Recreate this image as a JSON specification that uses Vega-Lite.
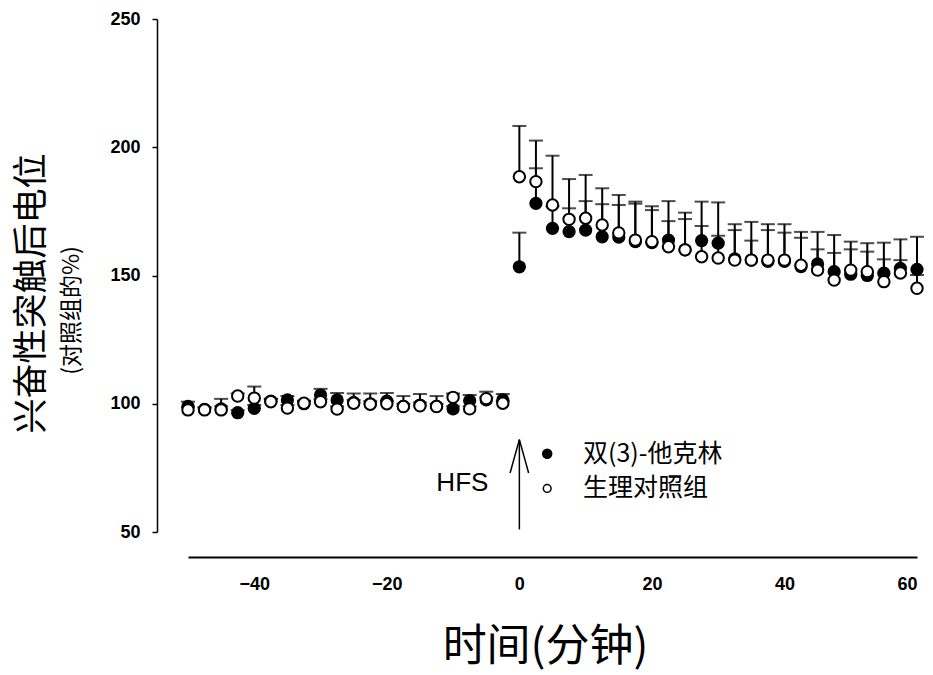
{
  "$schema": "https://vega.github.io/schema/vega-lite/v6.json",
  "width": 729,
  "height": 513,
  "autosize": {"type": "none"},
  "padding": {"left": 188, "top": 19, "right": 16, "bottom": 143},
  "background": "white",
  "config": {
    "view": {"stroke": null},
    "font": "Liberation Sans",
    "axis": {"grid": false, "domainColor": "black", "tickColor": "black", "labelColor": "black", "titleColor": "black"}
  },
  "datasets": {
    "pts": [
      {"t": -50, "group": "F", "mean": 99, "upper": 100.8},
      {"t": -47.5, "group": "F", "mean": 97.8, "upper": 98.6},
      {"t": -45, "group": "F", "mean": 98, "upper": 99},
      {"t": -42.5, "group": "F", "mean": 96.5, "upper": 97.5},
      {"t": -40, "group": "F", "mean": 98.2, "upper": 99.5},
      {"t": -37.5, "group": "F", "mean": 101, "upper": 102},
      {"t": -35, "group": "F", "mean": 101.5, "upper": 103},
      {"t": -32.5, "group": "F", "mean": 100, "upper": 101},
      {"t": -30, "group": "F", "mean": 103.4, "upper": 105.8},
      {"t": -27.5, "group": "F", "mean": 101.5, "upper": 104.2},
      {"t": -25, "group": "F", "mean": 100.5, "upper": 101.5},
      {"t": -22.5, "group": "F", "mean": 100, "upper": 101},
      {"t": -20, "group": "F", "mean": 101, "upper": 104.2},
      {"t": -17.5, "group": "F", "mean": 99, "upper": 100},
      {"t": -15, "group": "F", "mean": 99.5, "upper": 100.5},
      {"t": -12.5, "group": "F", "mean": 99, "upper": 100},
      {"t": -10, "group": "F", "mean": 98, "upper": 99},
      {"t": -7.5, "group": "F", "mean": 101.2, "upper": 103.4},
      {"t": -5, "group": "F", "mean": 101.5, "upper": 102.5},
      {"t": -2.5, "group": "F", "mean": 101.5, "upper": 103.8},
      {"t": 0, "group": "F", "mean": 153.4, "upper": 166.7},
      {"t": 2.5, "group": "F", "mean": 178.1, "upper": 191.8},
      {"t": 5, "group": "F", "mean": 168.4, "upper": 177},
      {"t": 7.5, "group": "F", "mean": 167.1, "upper": 176.2},
      {"t": 10, "group": "F", "mean": 167.7, "upper": 179},
      {"t": 12.5, "group": "F", "mean": 165.1, "upper": 177.8},
      {"t": 15, "group": "F", "mean": 165, "upper": 177.5},
      {"t": 17.5, "group": "F", "mean": 163.2, "upper": 178},
      {"t": 20, "group": "F", "mean": 162.8, "upper": 175.5},
      {"t": 22.5, "group": "F", "mean": 163.8, "upper": 179},
      {"t": 25, "group": "F", "mean": 160, "upper": 172},
      {"t": 27.5, "group": "F", "mean": 163.6, "upper": 178.8},
      {"t": 30, "group": "F", "mean": 162.6, "upper": 178.5},
      {"t": 32.5, "group": "F", "mean": 156.5, "upper": 167.7},
      {"t": 35, "group": "F", "mean": 156, "upper": 163.6},
      {"t": 37.5, "group": "F", "mean": 155.5, "upper": 167.7},
      {"t": 40, "group": "F", "mean": 155.5, "upper": 166.7},
      {"t": 42.5, "group": "F", "mean": 153.5, "upper": 164.7},
      {"t": 45, "group": "F", "mean": 154.5, "upper": 167},
      {"t": 47.5, "group": "F", "mean": 151.5, "upper": 165.8},
      {"t": 50, "group": "F", "mean": 150.5, "upper": 160.2},
      {"t": 52.5, "group": "F", "mean": 150, "upper": 159.3},
      {"t": 55, "group": "F", "mean": 150.9, "upper": 162.8},
      {"t": 57.5, "group": "F", "mean": 152.8, "upper": 164.1},
      {"t": 60, "group": "F", "mean": 152.4, "upper": 165.1},
      {"t": -50, "group": "O", "mean": 97.6, "upper": 98.6},
      {"t": -47.5, "group": "O", "mean": 97.6, "upper": 98.5},
      {"t": -45, "group": "O", "mean": 97.6, "upper": 101.9},
      {"t": -42.5, "group": "O", "mean": 103, "upper": 104},
      {"t": -40, "group": "O", "mean": 102.2, "upper": 106.7},
      {"t": -37.5, "group": "O", "mean": 100.8, "upper": 101.8},
      {"t": -35, "group": "O", "mean": 98.3, "upper": 99.5},
      {"t": -32.5, "group": "O", "mean": 100.2, "upper": 101.2},
      {"t": -30, "group": "O", "mean": 100.8, "upper": 101.8},
      {"t": -27.5, "group": "O", "mean": 97.9, "upper": 99},
      {"t": -25, "group": "O", "mean": 100.2, "upper": 104},
      {"t": -22.5, "group": "O", "mean": 99.8, "upper": 104},
      {"t": -20, "group": "O", "mean": 100, "upper": 101},
      {"t": -17.5, "group": "O", "mean": 98.9, "upper": 103},
      {"t": -15, "group": "O", "mean": 99.2, "upper": 103.8},
      {"t": -12.5, "group": "O", "mean": 98.9, "upper": 103},
      {"t": -10, "group": "O", "mean": 102.5, "upper": 104},
      {"t": -7.5, "group": "O", "mean": 98, "upper": 99},
      {"t": -5, "group": "O", "mean": 102, "upper": 104.7},
      {"t": -2.5, "group": "O", "mean": 100.2, "upper": 101},
      {"t": 0, "group": "O", "mean": 188.5, "upper": 208.3},
      {"t": 2.5, "group": "O", "mean": 186.6, "upper": 202.6},
      {"t": 5, "group": "O", "mean": 177.5, "upper": 196.7},
      {"t": 7.5, "group": "O", "mean": 171.9, "upper": 187.6},
      {"t": 10, "group": "O", "mean": 172.3, "upper": 189.2},
      {"t": 12.5, "group": "O", "mean": 169.7, "upper": 184},
      {"t": 15, "group": "O", "mean": 166.6, "upper": 181.4},
      {"t": 17.5, "group": "O", "mean": 163.8, "upper": 178.8},
      {"t": 20, "group": "O", "mean": 163.2, "upper": 177},
      {"t": 22.5, "group": "O", "mean": 161.2, "upper": 171.2},
      {"t": 25, "group": "O", "mean": 160, "upper": 174.5},
      {"t": 27.5, "group": "O", "mean": 157.3, "upper": 169.3},
      {"t": 30, "group": "O", "mean": 156.8, "upper": 165.5},
      {"t": 32.5, "group": "O", "mean": 156, "upper": 170},
      {"t": 35, "group": "O", "mean": 156, "upper": 170.9},
      {"t": 37.5, "group": "O", "mean": 156, "upper": 170},
      {"t": 40, "group": "O", "mean": 156, "upper": 170},
      {"t": 42.5, "group": "O", "mean": 154, "upper": 167},
      {"t": 45, "group": "O", "mean": 152.1, "upper": 160.2},
      {"t": 47.5, "group": "O", "mean": 148.2, "upper": 158.8},
      {"t": 50, "group": "O", "mean": 152.1, "upper": 163.2},
      {"t": 52.5, "group": "O", "mean": 151.5, "upper": 162.6},
      {"t": 55, "group": "O", "mean": 147.6, "upper": 156.3},
      {"t": 57.5, "group": "O", "mean": 151, "upper": 156},
      {"t": 60, "group": "O", "mean": 145, "upper": 150.2}
    ],
    "arrow": [
      {"t": 0, "v": 51, "t2": 0, "v2": 86},
      {"t": 0, "v": 86, "t2": -1.4, "v2": 73},
      {"t": 0, "v": 86, "t2": 1.4, "v2": 73}
    ],
    "hfs": [{"t": -8.6, "v": 69, "label": "HFS"}],
    "legendSym": [
      {"t": 4.2, "v": 80.5, "kind": "F"},
      {"t": 4.2, "v": 67, "kind": "O"}
    ],
    "legendText": [
      {"t": 9.6, "v": 80.5, "label": "双(3)-他克林"},
      {"t": 9.6, "v": 67, "label": "生理对照组"}
    ]
  },
  "resolve": {"scale": {"y": "shared", "x": "shared"}, "axis": {"y": "independent"}},
  "layer": [
    {
      "data": {"name": "pts"},
      "mark": {"type": "rule", "color": "black", "strokeWidth": 2},
      "encoding": {
        "x": {"field": "t", "type": "quantitative", "scale": {"domain": [-50, 60], "nice": false, "zero": false},
          "axis": {"title": "时间(分钟)", "values": [-40, -20, 0, 20, 40, 60], "offset": 25, "ticks": false, "domainWidth": 2,
            "labelFont": "Liberation Sans", "labelFontWeight": "bold", "labelFontSize": 18, "labelPadding": 18,
            "titleFont": "Noto Sans CJK SC", "titleFontWeight": "normal", "titleFontSize": 44,
            "titleX": 357, "titleY": 90, "titleBaseline": "middle", "titleAlign": "center"}},
        "y": {"field": "mean", "type": "quantitative", "scale": {"domain": [50, 250], "nice": false, "zero": false}, "axis": null},
        "y2": {"field": "upper"}
      }
    },
    {
      "data": {"name": "pts"},
      "mark": {"type": "tick", "orient": "horizontal", "color": "black", "size": 14, "thickness": 2},
      "encoding": {
        "x": {"field": "t", "type": "quantitative"},
        "y": {"field": "upper", "type": "quantitative", "axis": null}
      }
    },
    {
      "data": {"name": "pts"},
      "transform": [{"filter": "datum.group == 'F'"}],
      "mark": {"type": "point", "shape": "circle", "filled": true, "color": "black", "size": 175, "opacity": 1},
      "encoding": {
        "x": {"field": "t", "type": "quantitative"},
        "y": {"field": "mean", "type": "quantitative",
          "axis": {"orient": "left", "title": "(对照组的%)", "values": [50, 100, 150, 200, 250], "offset": 31, "tickSize": 5, "domainWidth": 1.5, "tickWidth": 1.5,
            "labelFont": "Liberation Sans", "labelFontWeight": "bold", "labelFontSize": 18, "labelPadding": 12,
            "titleFont": "Noto Sans CJK SC", "titleFontWeight": "normal", "titleFontSize": 23,
            "titleX": -86, "titleY": 291, "titleAngle": -90, "titleAlign": "center", "titleBaseline": "middle"}}
      }
    },
    {
      "data": {"name": "pts"},
      "transform": [{"filter": "datum.group == 'O'"}],
      "mark": {"type": "point", "shape": "circle", "filled": false, "fill": "white", "fillOpacity": 1, "stroke": "black", "strokeWidth": 2, "size": 130, "opacity": 1},
      "encoding": {
        "x": {"field": "t", "type": "quantitative"},
        "y": {"field": "mean", "type": "quantitative", "axis": null}
      }
    },
    {
      "data": {"name": "arrow"},
      "mark": {"type": "rule", "color": "black", "strokeWidth": 1.5},
      "encoding": {
        "x": {"field": "t", "type": "quantitative"},
        "x2": {"field": "t2"},
        "y": {"field": "v", "type": "quantitative",
          "axis": {"orient": "left", "title": "兴奋性突触后电位", "labels": false, "ticks": false, "domain": false, "offset": 31,
            "titleFont": "Noto Sans CJK SC", "titleFontWeight": "normal", "titleFontSize": 35,
            "titleX": -126, "titleY": 274, "titleAngle": -90, "titleAlign": "center", "titleBaseline": "middle"}},
        "y2": {"field": "v2"}
      }
    },
    {
      "data": {"name": "hfs"},
      "mark": {"type": "text", "font": "Liberation Sans", "fontSize": 26, "align": "center", "baseline": "middle", "color": "black"},
      "encoding": {
        "x": {"field": "t", "type": "quantitative"},
        "y": {"field": "v", "type": "quantitative", "axis": null},
        "text": {"field": "label"}
      }
    },
    {
      "data": {"name": "legendSym"},
      "transform": [{"filter": "datum.kind == 'F'"}],
      "mark": {"type": "point", "shape": "circle", "filled": true, "color": "black", "size": 110, "opacity": 1},
      "encoding": {
        "x": {"field": "t", "type": "quantitative"},
        "y": {"field": "v", "type": "quantitative", "axis": null}
      }
    },
    {
      "data": {"name": "legendSym"},
      "transform": [{"filter": "datum.kind == 'O'"}],
      "mark": {"type": "point", "shape": "circle", "filled": false, "fill": "white", "stroke": "black", "strokeWidth": 1.5, "size": 60, "opacity": 1},
      "encoding": {
        "x": {"field": "t", "type": "quantitative"},
        "y": {"field": "v", "type": "quantitative", "axis": null}
      }
    },
    {
      "data": {"name": "legendText"},
      "mark": {"type": "text", "font": "Noto Sans CJK SC", "fontSize": 25, "align": "left", "baseline": "middle", "color": "black"},
      "encoding": {
        "x": {"field": "t", "type": "quantitative"},
        "y": {"field": "v", "type": "quantitative", "axis": null},
        "text": {"field": "label"}
      }
    }
  ]
}
